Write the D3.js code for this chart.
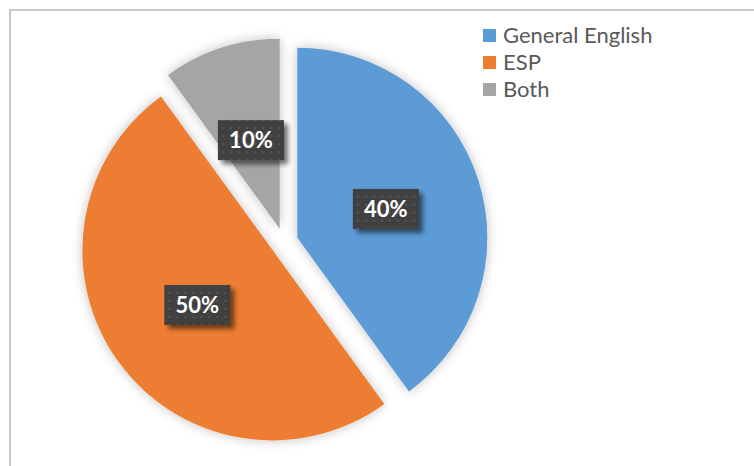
<!DOCTYPE html>
<html>
<head>
<meta charset="utf-8">
<script src="https://cdn.jsdelivr.net/npm/d3@7"></script>
<style>
  html, body { margin: 0; padding: 0; background: #fff; }
  svg { display: block; }
</style>
</head>
<body>
<svg id="chart" width="754" height="466"></svg>
<script>
// Course type preference shares
const categories = ["General English", "ESP", "Both"];
const values = [40, 50, 10];
const colors = ["#5B9BD5", "#ED7D31", "#A5A5A5"];

const width = 754, height = 466;
const cx = 284, cy = 242, radius = 190, explode = 14;

const svg = d3.select("#chart");
const defs = svg.append("defs");

// soft halo around slices
const halo = defs.append("filter").attr("id", "halo")
  .attr("x", "-20%").attr("y", "-20%").attr("width", "140%").attr("height", "140%");
halo.append("feGaussianBlur").attr("in", "SourceAlpha").attr("stdDeviation", 6).attr("result", "b");
halo.append("feOffset").attr("in", "b").attr("dx", 0).attr("dy", 0).attr("result", "o");
halo.append("feComponentTransfer").attr("in", "o").attr("result", "s")
  .append("feFuncA").attr("type", "linear").attr("slope", 0.25);
const hm = halo.append("feMerge");
hm.append("feMergeNode").attr("in", "s");
hm.append("feMergeNode").attr("in", "SourceGraphic");

// drop shadow for label boxes
const shadow = defs.append("filter").attr("id", "boxShadow")
  .attr("x", "-30%").attr("y", "-30%").attr("width", "170%").attr("height", "170%");
shadow.append("feGaussianBlur").attr("in", "SourceAlpha").attr("stdDeviation", 2.5).attr("result", "b");
shadow.append("feOffset").attr("in", "b").attr("dx", 4).attr("dy", 4).attr("result", "o");
shadow.append("feComponentTransfer").attr("in", "o").attr("result", "s")
  .append("feFuncA").attr("type", "linear").attr("slope", 0.55);
const sm = shadow.append("feMerge");
sm.append("feMergeNode").attr("in", "s");
sm.append("feMergeNode").attr("in", "SourceGraphic");

// dotted texture for label boxes
const pat = defs.append("pattern").attr("id", "dots")
  .attr("width", 8).attr("height", 8).attr("patternUnits", "userSpaceOnUse");
pat.append("rect").attr("width", 8).attr("height", 8).attr("fill", "#404040");
pat.append("rect").attr("x", 3).attr("y", 3).attr("width", 2).attr("height", 2).attr("fill", "#555555");

// chart frame
svg.append("rect")
  .attr("x", 10).attr("y", 10).attr("width", 800).attr("height", 500)
  .attr("fill", "none").attr("stroke", "#C8C8C8").attr("stroke-width", 2);

const pie = d3.pie().sort(null).value(d => d);
const arcs = pie(values);
const arc = d3.arc().innerRadius(0).outerRadius(radius);

function offset(d, dist) {
  const a = (d.startAngle + d.endAngle) / 2;
  return [Math.sin(a) * dist, -Math.cos(a) * dist];
}

const g = svg.append("g").attr("transform", `translate(${cx},${cy})`);

g.selectAll("path.slice")
  .data(arcs)
  .join("path")
  .attr("class", "slice")
  .attr("d", arc)
  .attr("fill", (d, i) => colors[i])
  .attr("filter", "url(#halo)")
  .attr("transform", d => { const [x, y] = offset(d, explode); return `translate(${x},${y})`; });

// value labels
const labelFont = "Lato, 'Open Sans', sans-serif";
const labels = g.selectAll("g.lbl")
  .data(arcs)
  .join("g")
  .attr("class", "lbl")
  .attr("transform", d => {
    const [ex, ey] = offset(d, explode);
    const [lx, ly] = offset(d, radius * 0.49);
    return `translate(${ex + lx},${ey + ly})`;
  });

labels.append("rect")
  .attr("x", -33).attr("y", -20).attr("width", 66).attr("height", 40)
  .attr("fill", "url(#dots)")
  .attr("filter", "url(#boxShadow)");

labels.append("text")
  .attr("text-anchor", "middle")
  .attr("dy", "0.36em")
  .attr("fill", "#FFFFFF")
  .attr("font-family", labelFont)
  .attr("font-weight", "bold")
  .attr("font-size", 22)
  .text(d => d.data + "%");

// legend
const legend = svg.append("g").attr("transform", "translate(483,29)");
const rows = legend.selectAll("g")
  .data(categories)
  .join("g")
  .attr("transform", (d, i) => `translate(0,${i * 27})`);
rows.append("rect")
  .attr("width", 13).attr("height", 13)
  .attr("fill", (d, i) => colors[i]);
rows.append("text")
  .attr("x", 20).attr("y", 6.5).attr("dy", "0.36em")
  .attr("fill", "#595959")
  .attr("font-family", labelFont)
  .attr("font-size", 22)
  .text(d => d);
</script>
</body>
</html>
